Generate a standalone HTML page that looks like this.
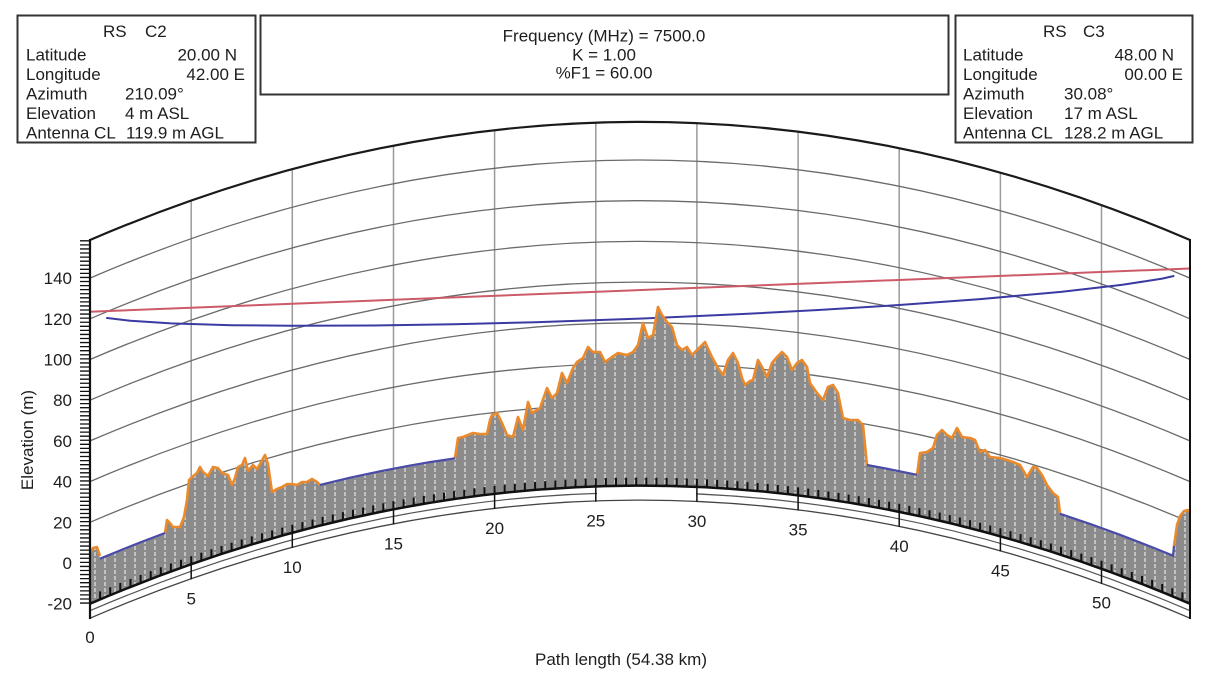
<!DOCTYPE html>
<html>
<head>
<meta charset="utf-8">
<style>
html,body{margin:0;padding:0;background:#fff;}
svg{display:block;}
text{font-family:"Liberation Sans",Arial,sans-serif;fill:#1e1e1e;}
</style>
</head>
<body>
<svg width="1209" height="682" viewBox="0 0 1209 682" xmlns="http://www.w3.org/2000/svg">
<defs>
<pattern id="h" width="10" height="6" patternUnits="userSpaceOnUse">
<rect width="10" height="6" fill="#8b8b8b"/>
<rect x="4.2" y="0" width="1.6" height="4" fill="#cfcfcf"/>
</pattern>
</defs>
<rect width="1209" height="682" fill="#fff"/>

<!-- info boxes -->
<rect x="17.5" y="15.5" width="238" height="127" fill="#fff" stroke="#333" stroke-width="2"/>
<rect x="260.5" y="15.5" width="688" height="79" fill="#fff" stroke="#333" stroke-width="2"/>
<rect x="955.5" y="15.5" width="237" height="127" fill="#fff" stroke="#333" stroke-width="2"/>

<g font-size="17">
<text x="103" y="37">RS</text><text x="145" y="37">C2</text>
<text x="26" y="60.5">Latitude</text><text x="237" y="60.5" text-anchor="end">20.00 N</text>
<text x="26" y="80">Longitude</text><text x="245" y="80" text-anchor="end">42.00 E</text>
<text x="26" y="99.5">Azimuth</text><text x="125" y="99.5">210.09°</text>
<text x="26" y="119">Elevation</text><text x="125" y="119">4 m ASL</text>
<text x="26" y="138.5">Antenna CL</text><text x="126" y="138.5">119.9 m AGL</text>

<text x="604" y="41.5" text-anchor="middle">Frequency (MHz) = 7500.0</text>
<text x="604" y="60.5" text-anchor="middle">K = 1.00</text>
<text x="604" y="78.5" text-anchor="middle">%F1 = 60.00</text>

<text x="1043" y="37">RS</text><text x="1083" y="37">C3</text>
<text x="963" y="60.5">Latitude</text><text x="1174" y="60.5" text-anchor="end">48.00 N</text>
<text x="963" y="80">Longitude</text><text x="1183" y="80" text-anchor="end">00.00 E</text>
<text x="963" y="99.5">Azimuth</text><text x="1064" y="99.5">30.08°</text>
<text x="963" y="119">Elevation</text><text x="1064" y="119">17 m ASL</text>
<text x="963" y="138.5">Antenna CL</text><text x="1064" y="138.5">128.2 m AGL</text>
</g>

<!-- vertical grid lines -->
<g stroke="#9a9a9a" stroke-width="1.5">
<line x1="191.2" y1="200.6" x2="191.2" y2="564.3"/>
<line x1="292.3" y1="169.1" x2="292.3" y2="532.8"/>
<line x1="393.5" y1="145.6" x2="393.5" y2="509.3"/>
<line x1="494.6" y1="130.2" x2="494.6" y2="493.9"/>
<line x1="595.8" y1="122.7" x2="595.8" y2="486.4"/>
<line x1="696.9" y1="123.2" x2="696.9" y2="486.9"/>
<line x1="798.1" y1="131.7" x2="798.1" y2="495.4"/>
<line x1="899.2" y1="148.1" x2="899.2" y2="511.8"/>
<line x1="1000.4" y1="172.6" x2="1000.4" y2="536.3"/>
<line x1="1101.5" y1="205" x2="1101.5" y2="568.7"/>
</g>

<!-- curved elevation grid lines -->
<g fill="none" stroke="#6a6a6a" stroke-width="1.3">
<path d="M90,563 Q640,326.8 1190,563"/>
<path d="M90,522.3 Q640,286.1 1190,522.3"/>
<path d="M90,481.6 Q640,245.4 1190,481.6"/>
<path d="M90,440.9 Q640,204.7 1190,440.9"/>
<path d="M90,400.2 Q640,164 1190,400.2"/>
<path d="M90,359.5 Q640,123.3 1190,359.5"/>
<path d="M90,318.8 Q640,82.6 1190,318.8"/>
<path d="M90,278.1 Q640,41.9 1190,278.1"/>
</g>

<!-- top arc -->
<path d="M90,240 Q640,3.8 1190,240" fill="none" stroke="#1a1a1a" stroke-width="2.2"/>

<!-- LOS and Fresnel -->
<line x1="90" y1="311.7" x2="1190" y2="268.5" stroke="#cc5a68" stroke-width="2"/>
<polyline fill="none" stroke="#3a3aa2" stroke-width="2" points="106.2,317.9 130.5,320.8 170.9,323.4 231.6,325.2 292.3,325.8 373.2,325.5 454.1,324.2 535.1,322.2 640,318.6 737.4,314.3 818.3,310 899.2,305 980.1,299.1 1061,291.9 1121.7,284.9 1162.2,278.6 1174.3,275.9"/>

<!-- terrain -->
<path fill="url(#h)" d="M90,603.7 L90,553 93,548 97,547 100,558.7 120,550.5 140,542.5 165,533 167,520 170,523 173,527 180,527 184,517 187,500 189,480 192,477 197,473 200,467 203,472 208,476 213,467 218,468 222,473 228,475 232,485 235,478 238,467 242,465 245,458 248,471 253,465 257,469 260,464 265,455 268,464 272,492 277,489 282,487 287,484 292,484 297,485 302,482 307,482 312,479 317,482 320,484.9 350,477.7 380,471.3 410,465.6 430,462.1 455,458.3 458,438 463,437 473,433 480,434 487,434 490,420 492,415 497,413 502,423 507,435 513,437 518,417 523,430 528,402 532,413 540,408 547,388 552,398 557,393 562,373 567,383 573,368 577,362 583,358 588,347 593,352 600,352 605,362 612,357 618,353 627,355 633,352 638,345 643,323 648,338 653,335 658,307 662,315 667,322 672,327 677,345 682,350 687,347 692,355 697,350 702,345 705,342 712,357 718,368 723,375 728,360 733,353 738,363 742,378 745,385 750,381 753,380 758,360 762,367 767,377 772,363 777,357 782,352 787,357 792,370 797,363 802,360 807,367 810,383 817,393 823,400 828,387 833,385 838,393 843,418 850,420 858,420 863,425 867,465 890,469.3 917,474.8 920,453 927,452 933,448 937,435 942,430 947,435 952,438 957,428 962,437 970,438 975,440 980,452 985,450 990,457 1000,458 1007,460 1013,462 1020,465 1027,477 1033,467 1037,468 1042,475 1047,485 1053,493 1058,497 1060,513.8 1090,523.9 1120,534.8 1150,546.4 1173,555.7 1174,546 1177,525 1180,516 1184,511 1188,510 1190,512 L1190,603.7 Q640,367.5 90,603.7 Z"/>

<!-- terrain outline orange -->
<g fill="none" stroke="#ea8a2c" stroke-width="2.6" stroke-linejoin="round">
<polyline points="90,553 93,548 97,547 100,556"/>
<polyline points="165,533 167,520 170,523 173,527 180,527 184,517 187,500 189,480 192,477 197,473 200,467 203,472 208,476 213,467 218,468 222,473 228,475 232,485 235,478 238,467 242,465 245,458 248,471 253,465 257,469 260,464 265,455 268,464 272,492 277,489 282,487 287,484 292,484 297,485 302,482 307,482 312,479 317,482 320,485"/>
<polyline points="455,458 458,438 463,437 473,433 480,434 487,434 490,420 492,415 497,413 502,423 507,435 513,437 518,417 523,430 528,402 532,413 540,408 547,388 552,398 557,393 562,373 567,383 573,368 577,362 583,358 588,347 593,352 600,352 605,362 612,357 618,353 627,355 633,352 638,345 643,323 648,338 653,335 658,307 662,315 667,322 672,327 677,345 682,350 687,347 692,355 697,350 702,345 705,342 712,357 718,368 723,375 728,360 733,353 738,363 742,378 745,385 750,381 753,380 758,360 762,367 767,377 772,363 777,357 782,352 787,357 792,370 797,363 802,360 807,367 810,383 817,393 823,400 828,387 833,385 838,393 843,418 850,420 858,420 863,425 867,465"/>
<polyline points="917,475 920,453 927,452 933,448 937,435 942,430 947,435 952,438 957,428 962,437 970,438 975,440 980,452 985,450 990,457 1000,458 1007,460 1013,462 1020,465 1027,477 1033,467 1037,468 1042,475 1047,485 1053,493 1058,497 1060,513"/>
<polyline points="1174,546 1177,525 1180,516 1184,511 1188,510 1190,512"/>
</g>
<!-- water segments -->
<g fill="none" stroke="#4a4aa8" stroke-width="2.2">
<polyline points="100,558.7 120,550.5 140,542.5 165,533"/>
<polyline points="320,484.9 350,477.7 380,471.3 410,465.6 430,462.1 455,458.3"/>
<polyline points="867,465 890,469.3 917,474.8"/>
<polyline points="1060,513.8 1090,523.9 1120,534.8 1150,546.4 1173,555.7 1174,546"/>
</g>

<!-- earth baseline, ticks, scale band -->
<path d="M90,603.7 Q640,367.5 1190,603.7" fill="none" stroke="#111" stroke-width="2.5"/>
<path id="tk" d="" fill="none" stroke="#111" stroke-width="2"/>
<path d="M90,610.7 Q640,374.5 1190,610.7" fill="none" stroke="#555" stroke-width="1.2"/>
<path d="M90,618.2 Q640,382 1190,618.2" fill="none" stroke="#444" stroke-width="1.3"/>
<rect x="597" y="489" width="99" height="8" fill="#fff"/>
<g stroke="#111" stroke-width="1.5">
<line x1="191.2" y1="564.3" x2="191.2" y2="579.3"/>
<line x1="292.3" y1="532.8" x2="292.3" y2="547.8"/>
<line x1="393.5" y1="509.3" x2="393.5" y2="524.3"/>
<line x1="494.6" y1="493.9" x2="494.6" y2="508.9"/>
<line x1="595.8" y1="486.4" x2="595.8" y2="501.8"/>
<line x1="696.9" y1="486.9" x2="696.9" y2="501.9"/>
<line x1="798.1" y1="495.4" x2="798.1" y2="510.4"/>
<line x1="899.2" y1="511.8" x2="899.2" y2="526.8"/>
<line x1="1000.4" y1="536.3" x2="1000.4" y2="551.3"/>
<line x1="1101.5" y1="568.7" x2="1101.5" y2="583.7"/>
</g>

<!-- axes -->
<line x1="85" y1="603.7" x2="85" y2="240" stroke="#111" stroke-width="10" stroke-dasharray="1.3 2.77"/>
<line x1="90" y1="239" x2="90" y2="619" stroke="#111" stroke-width="2.2"/>
<line x1="1190" y1="239" x2="1190" y2="619" stroke="#111" stroke-width="2"/>

<!-- y labels -->
<g font-size="17" text-anchor="end">
<text x="72" y="284.1">140</text>
<text x="72" y="324.8">120</text>
<text x="72" y="365.5">100</text>
<text x="72" y="406.2">80</text>
<text x="72" y="446.9">60</text>
<text x="72" y="487.6">40</text>
<text x="72" y="528.3">20</text>
<text x="72" y="569">0</text>
<text x="72" y="609.7">-20</text>
</g>
<text font-size="17" text-anchor="middle" transform="translate(33,440) rotate(-90)">Elevation (m)</text>

<!-- x labels -->
<g font-size="17" text-anchor="middle">
<text x="90" y="643">0</text>
<text x="191.2" y="604.3">5</text>
<text x="292.3" y="572.8">10</text>
<text x="393.5" y="549.3">15</text>
<text x="494.6" y="533.9">20</text>
<text x="595.8" y="526.4">25</text>
<text x="696.9" y="526.9">30</text>
<text x="798.1" y="535.4">35</text>
<text x="899.2" y="551.8">40</text>
<text x="1000.4" y="576.3">45</text>
<text x="1101.5" y="608.7">50</text>
<text x="621" y="665">Path length (54.38 km)</text>
</g>
</svg>
<script>
(function(){var p='';for(var k=1;k<=108;k++){var d=k*0.5,x=90+20.23*d,y=603.7-0.15973*d*(54.38-d);p+='M'+x.toFixed(1)+','+(y-8).toFixed(1)+'V'+y.toFixed(1);}document.getElementById('tk').setAttribute('d',p);})();
</script>
</body>
</html>
